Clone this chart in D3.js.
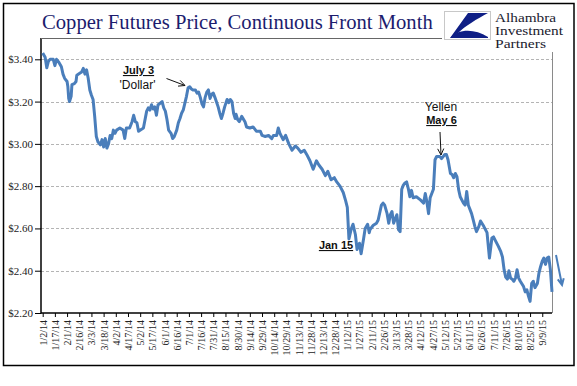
<!DOCTYPE html>
<html>
<head>
<meta charset="utf-8">
<script src="https://cdnjs.cloudflare.com/ajax/libs/d3/7.8.5/d3.min.js"></script>
<style>
  body { margin: 0; background: #fff; }
</style>
</head>
<body>
<div id="plot"></div>
<script>
// copper front month
const dates = [
  "2014-01-02","2014-01-05","2014-01-07","2014-01-09","2014-01-11","2014-01-15","2014-01-17","2014-01-19",
  "2014-01-22","2014-01-25","2014-01-27","2014-01-29","2014-02-01","2014-02-02","2014-02-03","2014-02-04",
  "2014-02-06","2014-02-07","2014-02-10","2014-02-12","2014-02-13","2014-02-17","2014-02-19","2014-02-21",
  "2014-02-23","2014-02-25","2014-02-27","2014-03-01","2014-03-03","2014-03-05","2014-03-07","2014-03-09",
  "2014-03-11","2014-03-14","2014-03-16","2014-03-18","2014-03-20","2014-03-22","2014-03-24","2014-03-26",
  "2014-03-28","2014-03-30","2014-04-01","2014-04-03","2014-04-07","2014-04-11","2014-04-13","2014-04-15",
  "2014-04-19","2014-04-22","2014-04-24","2014-04-26","2014-04-28","2014-04-30","2014-05-06","2014-05-10",
  "2014-05-12","2014-05-14","2014-05-16","2014-05-18","2014-05-20","2014-05-22","2014-05-24","2014-05-26",
  "2014-05-29","2014-05-31","2014-06-02","2014-06-04","2014-06-06","2014-06-09","2014-06-11","2014-06-13",
  "2014-06-16","2014-06-18","2014-06-20","2014-06-22","2014-06-24","2014-06-28","2014-06-30","2014-07-02",
  "2014-07-04","2014-07-06","2014-07-09","2014-07-11","2014-07-13","2014-07-15","2014-07-17","2014-07-19",
  "2014-07-21","2014-07-23","2014-07-25","2014-07-27","2014-07-29","2014-07-31","2014-08-02","2014-08-06",
  "2014-08-08","2014-08-10","2014-08-12","2014-08-14","2014-08-17","2014-08-19","2014-08-21","2014-08-23",
  "2014-08-25","2014-08-27","2014-08-28","2014-08-30","2014-09-01","2014-09-04","2014-09-08","2014-09-10",
  "2014-09-14","2014-09-18","2014-09-22","2014-09-27","2014-09-29","2014-10-03","2014-10-07","2014-10-11",
  "2014-10-13","2014-10-17","2014-10-19","2014-10-21","2014-10-25","2014-10-28","2014-11-01","2014-11-05",
  "2014-11-09","2014-11-12","2014-11-16","2014-11-20","2014-11-23","2014-11-27","2014-12-01","2014-12-05",
  "2014-12-08","2014-12-12","2014-12-16","2014-12-19","2014-12-23","2014-12-27","2014-12-30","2015-01-03",
  "2015-01-07","2015-01-10","2015-01-12","2015-01-14","2015-01-17","2015-01-19","2015-01-22","2015-01-24",
  "2015-01-27","2015-01-29","2015-02-01","2015-02-03","2015-02-06","2015-02-08","2015-02-09","2015-02-13",
  "2015-02-17","2015-02-19","2015-02-23","2015-02-25","2015-02-27","2015-03-02","2015-03-04","2015-03-06",
  "2015-03-08","2015-03-10","2015-03-14","2015-03-16","2015-03-18","2015-03-20","2015-03-22","2015-03-24",
  "2015-03-26","2015-03-28","2015-03-30","2015-04-01","2015-04-03","2015-04-07","2015-04-12","2015-04-16",
  "2015-04-18","2015-04-20","2015-04-22","2015-04-24","2015-04-26","2015-04-28","2015-04-30","2015-05-02",
  "2015-05-06","2015-05-08","2015-05-10","2015-05-12","2015-05-14","2015-05-16","2015-05-19","2015-05-21",
  "2015-05-23","2015-05-25","2015-05-27","2015-05-29","2015-05-31","2015-06-04","2015-06-06","2015-06-08",
  "2015-06-10","2015-06-12","2015-06-14","2015-06-16","2015-06-18","2015-06-20","2015-06-23","2015-06-25",
  "2015-06-29","2015-07-03","2015-07-06","2015-07-09","2015-07-11","2015-07-13","2015-07-17","2015-07-20",
  "2015-07-22","2015-07-24","2015-07-26","2015-07-28","2015-07-30","2015-08-01","2015-08-03","2015-08-05",
  "2015-08-07","2015-08-09","2015-08-11","2015-08-13","2015-08-17","2015-08-19","2015-08-21","2015-08-23",
  "2015-08-25","2015-08-27","2015-08-29","2015-08-31","2015-09-03","2015-09-05","2015-09-07","2015-09-09",
  "2015-09-11","2015-09-13","2015-09-15","2015-09-17","2015-09-19","2015-09-21"
];
const prices = [
  3.43,3.41,3.36,3.39,3.40,3.40,3.37,3.40,
  3.385,3.365,3.33,3.31,3.295,3.27,3.215,3.20,
  3.225,3.28,3.285,3.295,3.325,3.335,3.34,3.357,
  3.33,3.35,3.31,3.255,3.23,3.21,3.13,3.035,
  3.01,2.995,3.02,2.985,3.025,2.98,3.00,3.04,
  3.025,3.065,3.05,3.065,3.075,3.065,3.025,3.075,
  3.075,3.105,3.135,3.105,3.10,3.06,3.075,3.155,
  3.17,3.16,3.185,3.165,3.175,3.135,3.185,3.19,
  3.20,3.17,3.155,3.115,3.065,3.05,3.025,3.035,
  3.065,3.10,3.12,3.145,3.16,3.225,3.265,3.27,
  3.26,3.255,3.255,3.24,3.245,3.22,3.19,3.175,
  3.22,3.245,3.255,3.215,3.235,3.24,3.22,3.175,
  3.145,3.12,3.145,3.175,3.21,3.195,3.21,3.20,
  3.145,3.12,3.14,3.115,3.105,3.13,3.105,3.08,
  3.075,3.08,3.06,3.06,3.04,3.035,3.04,3.025,
  3.04,3.04,3.075,3.05,3.02,3.04,3.00,2.97,
  2.99,2.98,2.96,2.97,2.95,2.92,2.88,2.92,
  2.90,2.88,2.85,2.87,2.83,2.84,2.82,2.80,
  2.77,2.73,2.70,2.55,2.60,2.62,2.57,2.50,
  2.53,2.48,2.55,2.60,2.62,2.58,2.595,2.615,
  2.625,2.64,2.71,2.72,2.71,2.67,2.625,2.665,
  2.68,2.625,2.665,2.595,2.585,2.785,2.805,2.815,
  2.82,2.79,2.75,2.78,2.745,2.75,2.735,2.72,
  2.765,2.725,2.67,2.745,2.765,2.785,2.925,2.94,
  2.94,2.93,2.94,2.95,2.95,2.925,2.86,2.855,
  2.84,2.86,2.845,2.785,2.75,2.72,2.71,2.775,
  2.71,2.69,2.67,2.64,2.61,2.585,2.61,2.635,
  2.61,2.58,2.46,2.555,2.56,2.545,2.515,2.49,
  2.465,2.405,2.37,2.36,2.40,2.365,2.36,2.35,
  2.365,2.405,2.365,2.35,2.325,2.30,2.31,2.28,
  2.255,2.34,2.35,2.32,2.34,2.39,2.42,2.445,
  2.46,2.43,2.46,2.465,2.405,2.30
];
const yTicks = [2.2, 2.4, 2.6, 2.8, 3.0, 3.2, 3.4];
const xTickLabels = [
  "1/2/14","1/17/14","2/1/14","2/16/14","3/3/14","3/18/14","4/2/14","4/17/14","5/2/14","5/17/14",
  "6/1/14","6/16/14","7/1/14","7/16/14","7/31/14","8/15/14","8/30/14","9/14/14","9/29/14","10/14/14",
  "10/29/14","11/13/14","11/28/14","12/13/14","12/28/14","1/12/15","1/27/15","2/11/15","2/26/15","3/13/15",
  "3/28/15","4/12/15","4/27/15","5/12/15","5/27/15","6/11/15","6/26/15","7/11/15","7/26/15","8/10/15",
  "8/25/15","9/9/15"
];
const titleText = "Copper Futures Price, Continuous Front Month";
const logoLines = ["Alhambra", "Investment", "Partners"];
const logoWidths = [61, 68, 51];

const w = 577;
const h = 386;
const plot = {left: 41, right: 552, top: 38, bottom: 313};

const parseDay = d3.timeParse("%Y-%m-%d");
const parseTick = d3.timeParse("%m/%d/%y");
const series = dates.map((d, i) => ({date: parseDay(d), value: prices[i]}));

const svg = d3.select("div#plot")
  .append("svg")
  .attr("width", w)
  .attr("height", h);

svg.append("rect")
  .attr("width", w).attr("height", h)
  .attr("fill", "white");

// outer frame
svg.append("rect")
  .attr("x", 3.5).attr("y", 3.5)
  .attr("width", 570.5).attr("height", 362)
  .attr("fill", "none")
  .attr("stroke", "#000")
  .attr("stroke-width", 1.5);

const xScale = d3.scaleTime()
  .domain([parseDay("2014-01-02"), parseDay("2015-09-21")])
  .range([42.7, plot.right]);

const yScale = d3.scaleLinear()
  .domain([2.2, 3.4])
  .range([plot.bottom, 59.3]);

// gridlines
svg.append("g")
  .selectAll("line")
  .data(yTicks.filter(t => t > 2.2))
  .enter()
  .append("line")
  .attr("x1", plot.left).attr("x2", plot.right)
  .attr("y1", d => Math.round(yScale(d)) + 0.5)
  .attr("y2", d => Math.round(yScale(d)) + 0.5)
  .attr("stroke", "#b4b4b4")
  .attr("stroke-dasharray", "3,2");

// right edge
svg.append("line")
  .attr("x1", plot.right + 0.5).attr("x2", plot.right + 0.5)
  .attr("y1", 52).attr("y2", plot.bottom)
  .attr("stroke", "#8a8a8a");

// y axis
const yAxis = svg.append("g")
  .attr("transform", `translate(${plot.left},0)`)
  .call(d3.axisLeft(yScale).tickValues(yTicks).tickFormat(d3.format("$.2f")).tickSize(6).tickPadding(2));
yAxis.select(".domain").remove();
yAxis.selectAll("line").attr("stroke", "#000");
yAxis.selectAll("text")
  .style("font-family", "'Liberation Serif', serif")
  .style("font-size", "11px")
  .attr("fill", "#222");

// x axis
const xAxis = svg.append("g")
  .attr("transform", `translate(0,${plot.bottom})`)
  .call(d3.axisBottom(xScale)
    .tickValues(xTickLabels.map(parseTick))
    .tickFormat((d, i) => xTickLabels[i])
    .tickSize(4));
xAxis.select(".domain").remove();
xAxis.selectAll("line").attr("stroke", "#000");
xAxis.selectAll("text")
  .attr("transform", "rotate(-90)")
  .attr("text-anchor", "end")
  .attr("x", -7)
  .attr("y", 0)
  .attr("dy", "0.35em")
  .style("font-family", "'Liberation Serif', serif")
  .style("font-size", "10px")
  .attr("fill", "#222");

// axis lines + title underline
svg.append("line")
  .attr("x1", plot.left).attr("x2", plot.left)
  .attr("y1", plot.top).attr("y2", plot.bottom + 0.5)
  .attr("stroke", "#000").attr("stroke-width", 1.5);
svg.append("line")
  .attr("x1", plot.left).attr("x2", plot.right)
  .attr("y1", plot.bottom).attr("y2", plot.bottom)
  .attr("stroke", "#000").attr("stroke-width", 1.5);
svg.append("line")
  .attr("x1", plot.left).attr("x2", 442)
  .attr("y1", plot.top + 0.5).attr("y2", plot.top + 0.5)
  .attr("stroke", "#666");

// price line
const line = d3.line()
  .x(d => xScale(d.date))
  .y(d => yScale(d.value));

svg.append("path")
  .datum(series)
  .attr("d", line)
  .attr("fill", "none")
  .attr("stroke", "#4a7ebb")
  .attr("stroke-width", 3)
  .attr("stroke-linejoin", "round");

// title
const title = svg.append("text")
  .attr("x", 42)
  .attr("y", 29)
  .style("font-family", "'Liberation Serif', serif")
  .style("font-size", "20px")
  .attr("fill", "#1c1c6e")
  .text(titleText);
const tw = title.node().getComputedTextLength();
title.style("font-size", (20 * 391 / tw) + "px");

// logo
const logo = svg.append("g").attr("transform", "translate(444,11)");
logo.append("rect")
  .attr("x", 0.5).attr("y", 0.5)
  .attr("width", 46).attr("height", 28)
  .attr("fill", "white")
  .attr("stroke", "#c8c8c8");
logo.append("path")
  .attr("d", "M24,2 L44,2 C33,8 21,15 14,22 L6,27 Z")
  .attr("fill", "#0f1f85");
logo.append("path")
  .attr("d", "M6,27 C14,18 30,17 44,26 L44,27 Z")
  .attr("fill", "#0f1f85");
// small font stretched sideways so the stacked lines don't collide
logo.selectAll("text.logo")
  .data(logoLines)
  .enter()
  .append("text")
  .attr("class", "logo")
  .attr("x", 51)
  .attr("y", (d, i) => 10.8 + i * 13.3)
  .attr("textLength", (d, i) => logoWidths[i])
  .attr("lengthAdjust", "spacingAndGlyphs")
  .style("font-family", "'Liberation Serif', serif")
  .style("font-size", "12px")
  .attr("fill", "#1a1a2e")
  .text(d => d);

// annotations
function note(x, y, txt, bold) {
  svg.append("text")
    .attr("x", x).attr("y", y)
    .attr("text-anchor", "middle")
    .style("font-family", "'Liberation Sans', sans-serif")
    .style("font-size", bold ? "11px" : "12px")
    .style("font-weight", bold ? "bold" : "normal")
    .style("text-decoration", bold ? "underline" : "none")
    .attr("fill", "#111")
    .text(txt);
}
note(138.5, 74, "July 3", true);
note(137.5, 89, "'Dollar'", false);
note(441, 111, "Yellen", false);
note(441.5, 124, "May 6", true);
note(336, 249, "Jan 15", true);

function arrow(x1, y1, x2, y2, color, width, head) {
  const a = Math.atan2(y2 - y1, x2 - x1);
  const s = 0.45;
  svg.append("path")
    .attr("d", `M${x1},${y1}L${x2},${y2}` +
      `M${x2 - head * Math.cos(a - s)},${y2 - head * Math.sin(a - s)}L${x2},${y2}` +
      `L${x2 - head * Math.cos(a + s)},${y2 - head * Math.sin(a + s)}`)
    .attr("fill", "none")
    .attr("stroke", color)
    .attr("stroke-width", width);
}
arrow(166.5, 78.5, 185, 85.5, "#111", 1, 7);
arrow(440, 132, 441, 155, "#111", 1, 7);
arrow(556, 255, 562, 285, "#4a7ebb", 2, 7);
</script>
</body>
</html>
